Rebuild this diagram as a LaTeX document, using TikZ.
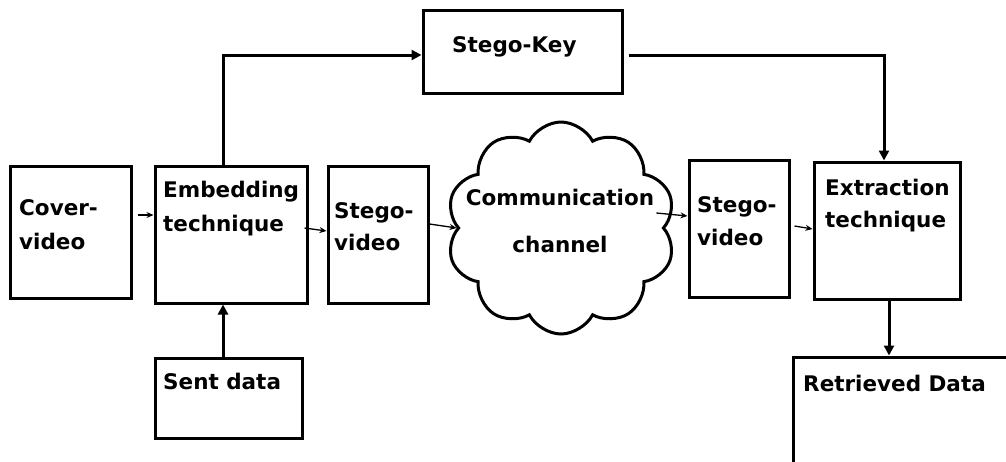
\documentclass[tikz,border=0pt]{standalone}
\usepackage{fontspec}
\setmainfont{DejaVu Sans}
\usetikzlibrary{arrows.meta,shapes.symbols}
\tikzset{
  box/.style={draw, line width=3pt, inner sep=0pt},
  txt/.style={anchor=base west, inner sep=0pt, align=left, font=\bfseries\fontsize{21.5}{33}\selectfont},
  flow/.style={-{Stealth[length=7pt,width=6pt]}, line width=1.3pt},
  link/.style={-{Triangle[length=10pt,width=10pt]}, line width=3pt},
}
\begin{document}
\begin{tikzpicture}[x=1pt,y=-1pt]
  \useasboundingbox (0,0) rectangle (1006,461);
  \clip (0,0) rectangle (1006,461);

  % boxes
  \node[box, minimum width=121pt, minimum height=132pt] (cov) at (70.5,232) {};
  \node[box, minimum width=152pt, minimum height=137pt] (emb) at (231,234.5) {};
  \node[box, minimum width=100pt, minimum height=137pt] (sv1) at (378,234.5) {};
  \node[box, cloud, cloud puffs=10, cloud puff arc=125, aspect=1.08,
        minimum width=229pt, minimum height=212pt] (chan) at (561,228) {};
  \node[box, minimum width=100pt, minimum height=137pt] (sv2) at (739,228.5) {};
  \node[box, minimum width=146pt, minimum height=137pt] (ext) at (887,230.5) {};
  \node[box, minimum width=199pt, minimum height=83pt] (key) at (522.5,51.5) {};
  \node[box, minimum width=147pt, minimum height=80pt] (sent) at (228.5,398) {};
  \node[box, minimum width=247pt, minimum height=143pt] (ret) at (916.5,428.5) {};

  % texts (base = last line)
  \node[txt, font=\bfseries\fontsize{21.5}{34}\selectfont] (covl) at (19,249) {Cover-\\video};
  \node[txt, font=\bfseries\fontsize{21.5}{34}\selectfont] (embl) at (163,231) {Embedding\\technique};
  \node[txt, font=\bfseries\fontsize{21.5}{32}\selectfont] (sv1l) at (334,250) {Stego-\\video};
  \node[txt, anchor=base, align=center, font=\bfseries\fontsize{21.5}{47}\selectfont] (chanl) at (560,252) {Communication\\channel};
  \node[txt] (sv2l) at (697,245) {Stego-\\video};
  \node[txt, font=\bfseries\fontsize{21.5}{32}\selectfont] (extl) at (825,227) {Extraction\\technique};
  \node[txt] (keyl) at (452,52) {Stego-Key};
  \node[txt] (sentl) at (163,389) {Sent data};
  \node[txt] (retl) at (803,391) {Retrieved Data};

  % connectors
  \draw[flow] ([xshift=5pt,yshift=17pt]cov.east) -- ([yshift=19.5pt]emb.west);
  \draw[flow] ([xshift=-4pt,yshift=6.5pt]emb.east) -- ([yshift=3.5pt]sv1.west);
  \draw[flow] ([yshift=10.5pt]sv1.east) -- (chan.west);
  \draw[flow] ([xshift=-9pt,yshift=15pt]chan.east) -- ([yshift=12.5pt]sv2.west);
  \draw[flow] ([xshift=4pt,yshift=2.5pt]sv2.east) -- ([yshift=1.5pt]ext.west);
  \draw[link] ([xshift=-8pt]emb.north) |- ([yshift=-3.5pt]key.west);
  \draw[link] ([xshift=5pt,yshift=-3.5pt]key.east) -| ([xshift=-3pt]ext.north);
  \draw[link] ([xshift=-5.5pt]sent.north) -- ([xshift=-8pt]emb.south);
  \draw[link] ([xshift=2pt]ext.south) -- ([xshift=-27.5pt]ret.north);
\end{tikzpicture}
\end{document}
